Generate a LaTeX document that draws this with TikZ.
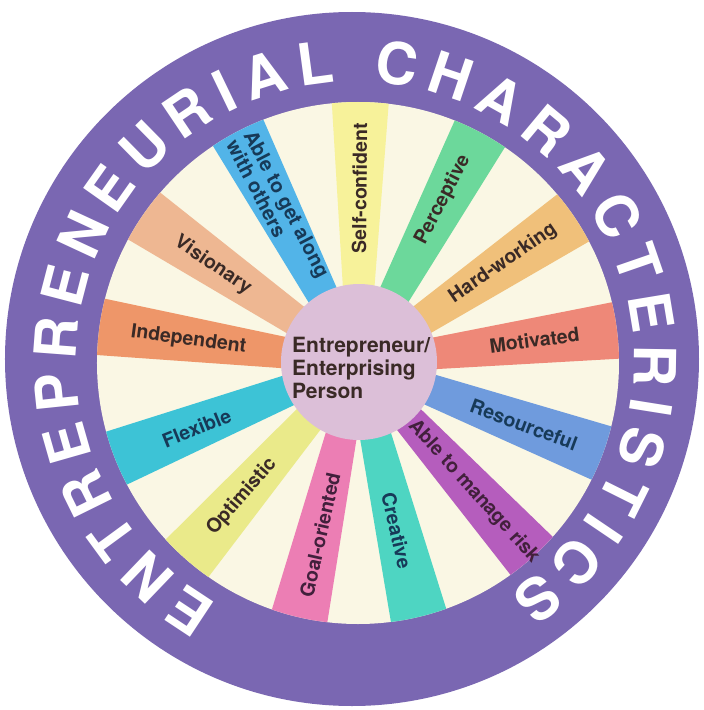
\documentclass[tikz,border=0pt]{standalone}
\usepackage{fontspec}
\setmainfont{TeX Gyre Heros}
\definecolor{ringpurple}{HTML}{7A67B2}
\definecolor{cream}{HTML}{FAF7E4}
\definecolor{hubpink}{HTML}{DCBFD8}
\definecolor{cSelf}{HTML}{F7F29A}
\definecolor{cPerc}{HTML}{6CD89B}
\definecolor{cHard}{HTML}{F0C07A}
\definecolor{cMoti}{HTML}{EE8878}
\definecolor{cReso}{HTML}{6F9BDD}
\definecolor{cRisk}{HTML}{B55DBD}
\definecolor{cCrea}{HTML}{4ED5C2}
\definecolor{cGoal}{HTML}{EC7EB4}
\definecolor{cOpti}{HTML}{EAEA8A}
\definecolor{cFlex}{HTML}{3DC3D6}
\definecolor{cInde}{HTML}{EE9669}
\definecolor{cVisi}{HTML}{EEB792}
\definecolor{cAlon}{HTML}{52B4E8}
\definecolor{tDark}{HTML}{3A2A26}
\definecolor{tNavy}{HTML}{173A58}
\definecolor{tPlum}{HTML}{42203C}
\begin{document}
\begin{tikzpicture}[x=1pt,y=1pt,
  ringletter/.style={font=\fontsize{58}{58}\selectfont\bfseries, text=white, anchor=base, inner sep=0pt},
  lbl/.style={font=\fontsize{19.5}{19.5}\selectfont\bfseries, inner sep=0pt},
  hubtext/.style={font=\fontsize{21}{21}\selectfont\bfseries, text=tDark, anchor=base west, inner sep=0pt}]
\useasboundingbox (-352,-351) rectangle (352,359);
\fill[white] (-352,-351) rectangle (352,359);
% ring and disk
\fill[ringpurple] (0,0) circle (347);
\coordinate (ctr) at (6,-4);
\fill[cream] (ctr) circle (261);
% spokes
\begin{scope}[shift={(ctr)}]
\clip (0,0) circle (261);
\foreach \a/\c in {89.5/cSelf,62/cPerc,34/cHard,7.2/cMoti,-20.3/cReso,-48/cRisk,-76.5/cCrea,-103/cGoal,-131.2/cOpti,201.5/cFlex,172/cInde,145.5/cVisi,117.5/cAlon}{
  \fill[\c, rotate=\a] (50,-14) -- (275,-29.5) -- (275,29.5) -- (50,14) -- cycle;
}
\end{scope}
% hub
\node[circle, fill=hubpink, minimum size=156pt, inner sep=0pt] (hub) at (7,-3) {};
\node[hubtext] (hubA) at (-60,7) {Entrepreneur/};
\node[hubtext] (hubB) at (-60,-16) {Enterprising};
\node[hubtext] (hubC) at (-60,-39) {Person};
% spoke labels
\begin{scope}[shift={(ctr)}]
\foreach \d/\r/\rot/\txt/\col [count=\k] in {
  89.5/175/89.5/Self-confident/tDark,
  62.5/184/62.5/Perceptive/tDark,
  34.5/176/34.5/Hard-working/tDark,
  7.4/178/7.4/Motivated/tDark,
  -20.4/177/-20.4/Resourceful/tNavy,
  -48/173/-48/Able to manage risk/tPlum,
  -77/172/-77/Creative/tNavy,
  -102.5/176/77.5/Goal-oriented/tPlum,
  -131/177/49/Optimistic/tDark,
  202/174/22/Flexible/tNavy,
  172.3/171/-7.7/Independent/tDark,
  146/175/-34/Visionary/tDark}{
  \node[lbl, text=\col, rotate=\rot] (label\k) at (\d:\r) {\txt};
}
\node[lbl, text=tNavy, rotate=-62.5, align=left, font=\fontsize{20}{20}\selectfont\bfseries] (labelAlong) at (117.3:174) {Able to get along\\with others};
\end{scope}
% ring lettering
\begin{scope}[shift={(3,-2)}]
\gdef\arcpos{-19.343}
\foreach \ch/\w [count=\k] in {E/.667,N/.722,T/.611,R/.722,E/.667,P/.667,R/.722,E/.667,N/.722,E/.667,U/.722,R/.722,I/.278,A/.722,L/.611,{}/.278,C/.722,H/.722,A/.722,R/.722,A/.722,C/.722,T/.611,E/.667,R/.722,I/.278,S/.667,T/.611,I/.278,C/.722,S/.667}{
  \pgfmathsetmacro\mid{\arcpos+\w*29}
  \pgfmathsetmacro\ang{236.5-\mid/300*57.29578}
  \node[ringletter, rotate=\ang-90] (ring\k) at (\ang:279) {\ch};
  \pgfmathsetmacro\nxt{\arcpos+\w*58+13.6}
  \xdef\arcpos{\nxt}
}
\end{scope}
\end{tikzpicture}
\end{document}
